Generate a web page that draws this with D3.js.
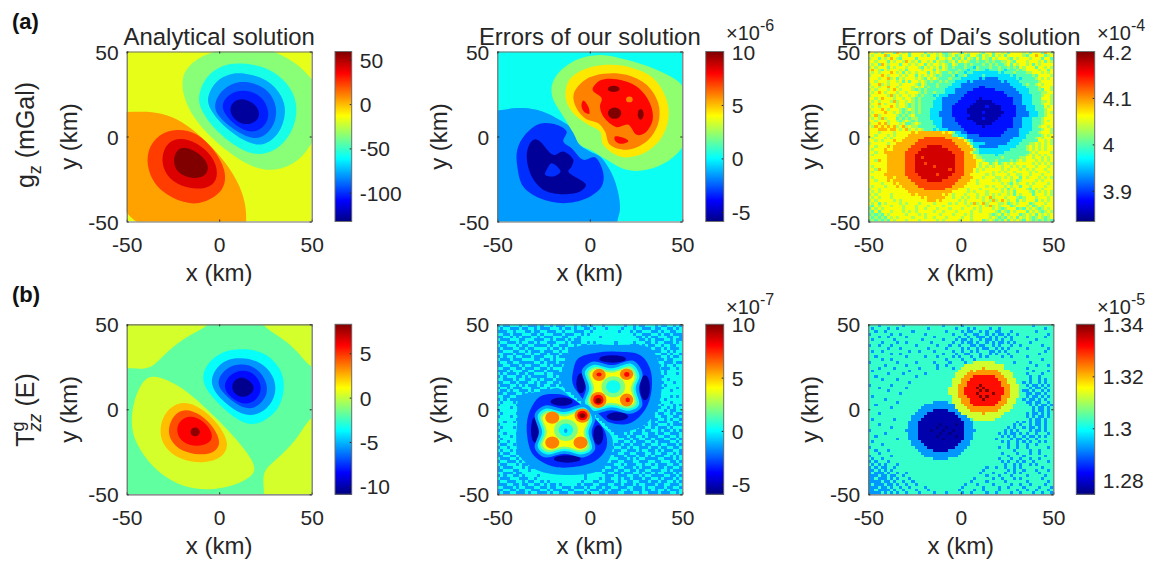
<!DOCTYPE html>
<html><head><meta charset="utf-8">
<script src="https://cdn.jsdelivr.net/npm/d3@7"></script>
<style>html,body{margin:0;background:#fff}svg{display:block;font-family:"Liberation Sans",Arial,sans-serif}</style>
</head><body><svg id="c" width="1162" height="561"></svg>
<script>
// ---------- tick labels ----------
const axisTicks = [-50, 0, 50];
const cbTicks1 = [50, 0, -50, -100];
const cbTicks2 = [10, 5, 0, -5];
const cbTicks3 = [4.2, 4.1, 4, 3.9];
const cbTicks4 = [5, 0, -5, -10];
const cbTicks5 = [10, 5, 0, -5];
const cbTicks6 = [1.34, 1.32, 1.3, 1.28];
const titles = ["Analytical solution", "Errors of our solution", "Errors of Dai\u2032s solution"];
// ---------- colour-bar ranges ----------
const domain1 = [-132.5, 59.4], domain2 = [-5.9, 10], domain3 = [3.834, 4.2];
const domain4 = [-10.9, 8.27], domain5 = [-5.94, 10], domain6 = [1.2746, 1.34];

// ---------- panel 1: g_z analytical (contour outlines, km) ----------
const p1_orange = [[-60,14.4],[-50,14.4],[-39,14.9],[-28,13],[-17.6,7.2],[-6.8,-2.8],[4,-15.6],[11.6,-29.5],[14.6,-41.5],[14.6,-50],[14.6,-60],[-60,-60]];
const p1_orangered = [[-23,4.8],[-12,2.5],[-2.6,-7.6],[3.9,-19.9],[3,-32.2],[-8.4,-39.4],[-17.8,-40],[-32.8,-32.2],[-39,-19.9],[-39,-7.6],[-32.6,1.5]];
const p1_red = [[-21.2,-.5],[-12,-3.4],[-3.3,-11.6],[-.2,-21.9],[-3.3,-29.4],[-12.2,-31.5],[-23.4,-28.4],[-30,-20.9],[-31.3,-11.6],[-28.2,-3.5]];
const p1_dark = [[-18.5,-5.4],[-10,-10.3],[-5.2,-16.9],[-7,-23.6],[-14.9,-25.1],[-22.7,-21.5],[-25,-15],[-23.6,-8.4]];
const p1_green = [[14,56],[-3.2,50],[-12.4,45.6],[-19.2,38.6],[-20.5,29.3],[-17.4,17.2],[-9.2,4.2],[3.8,-8.6],[16.7,-17.7],[27.5,-20.6],[38.8,-17.6],[47,-9.5],[50,-3.2],[58,8],[58,25],[50,33.3],[44,41.6],[31,50]];
const p1_cyan = [[11.3,43.5],[26.2,41],[37.2,31.8],[42.7,19.5],[40.9,5.2],[33.4,-6.8],[22,-11.8],[11,-7.7],[-2,3.2],[-10.2,15.6],[-11.7,23.6],[-7.4,35.8],[2.1,42.3]];
const p1_azure = [[13.1,37.6],[26.2,34],[34.5,23.8],[36.4,13.6],[32.7,1.3],[24.2,-5.9],[14.7,-3.8],[1.8,6.2],[-5.7,16.5],[-6.7,23.6],[-1.9,33],[5.7,37]];
const p1_blue = [[14.9,32.7],[25.3,29],[31,19.7],[31,9.4],[26.2,1.2],[18.6,-2.4],[7.3,4.1],[-1.2,12.3],[-3.1,18.7],[.9,27],[7.4,31.7]];
const p1_blue2 = [[14,27.8],[23.2,24],[27.4,14.6],[25.5,6.2],[17.7,1.4],[9,6.1],[2.5,13.4],[1.1,19.8],[6.4,26.1]];
const p1_navy = [[13.1,22.7],[20,19],[22.5,12.6],[19,7.5],[12.2,6.9],[7,11.1],[5.4,16.7],[8.1,21.2]];

// ---------- panel 2: errors of our solution ----------
const p2_azure = [[-60,15.3],[-50,15.3],[-39.5,16.7],[-28.7,15.7],[-17.9,10.8],[-8.9,3.9],[-6.2,-3.9],[.1,-8.8],[5.5,-11.8],[11.8,-21.6],[15.4,-33.3],[16.3,-43.1],[14.9,-50],[14.9,-60],[-60,-60]];
const p2_blue = [[-27,7.5],[-18,6.9],[-12.5,2.9],[-14.3,-2.9],[-9.8,-6.9],[-3.5,-13.7],[2.8,-12.2],[7.3,-21.6],[6.4,-29.4],[-1.7,-36.3],[-14.3,-39.2],[-27,-36.3],[-36,-29.4],[-39.2,-17.6],[-39.2,-7.8],[-35,1]];
const p2_navy = [[-29.6,-1.6],[-26.9,-2.9],[-19.7,-10.8],[-14.3,-8.8],[-8.9,-13.7],[-9.8,-17.6],[-11.6,-20.6],[-2.1,-28.4],[-5.3,-32.4],[-14.3,-33.9],[-25,-31.4],[-31.4,-23.5],[-34.1,-11.8],[-32.3,-3.9]];
const p2_hole = [[-20.6,-15.7],[-15.8,-20.6],[-19.7,-23.5],[-24.2,-22.5],[-23.3,-19.6]];
const p2_green = [[5.5,48],[19.9,45.1],[36.1,39.2],[48.7,31.4],[51,25.5],[51,-3.9],[43.3,-13.7],[30.7,-19.6],[19.9,-19.6],[9.1,-13.7],[1.9,-8.8],[-5.3,-4.9],[-8.9,2],[-14.3,11.8],[-19.7,21.6],[-20.6,29.4],[-17,37.3],[-7.1,45.1]];
const p2_yellow = [[9.1,42.2],[21.7,40.8],[34.3,34.3],[41.5,21.6],[42.4,9.8],[37.9,-2],[27.1,-10.8],[16.3,-11.8],[7.3,-4.9],[5.5,2.9],[-.8,6.9],[-8.9,13.7],[-12.9,21.6],[-11.6,32.4],[-3.5,39.2]];
const p2_orange = [[7.3,36.9],[19.9,36.3],[30.7,30.4],[37,19.6],[37,7.8],[30.7,-2.9],[19.9,-7.8],[10.9,-4.9],[8.2,2.9],[4.6,7.8],[-2.6,10.8],[-8,18.6],[-8.6,25.5],[-2.6,33.3]];
const p2_red = [[5.5,32.9],[14.5,33.7],[25.3,29.4],[32.5,19.6],[34,9.8],[29.8,2],[25.3,1],[20.8,6.9],[14.5,5.5],[7.3,11.8],[5.5,17.6],[6.4,22.5],[1.5,27.5]];
const p2_redLow = [[13.6,0],[19.9,-1.6],[20.8,-2.9],[16.3,-4.3],[13.6,-2.4]];
const p2_redLeft = [[-3.5,21.2],[-.8,17.6],[-.3,13.3],[-3.2,14.7],[-4.5,18.6]];
const p2_darkSpots = [[12.9,28,3.2,1.8],[13.4,13.7,3.6,3.3],[27.5,13.1,1.6,3.1]];
const p2_orangeSpots = [[21.4,21.8,1.8,1.7]];

// ---------- panel 3: errors of Dai's solution, level code per cell (groups of ten) ----------
const p3_levelValues = [3.85,3.885,3.92,3.96,4.0,4.03,4.06,4.09,4.13,4.17];
const p3_rows = [
"6656466647 6564666646 5656445665 4656665466 4665646666 5646664765",
"6566674666 5664666564 6656545645 6546654656 4656466666 5466766456",
"5664656765 4666646666 6646656454 6465464654 6566654656 6656664664",
"6656664656 6576564665 6465545646 5654454454 5445565466 6566656465",
"6564765666 4665656646 5665654654 4545444545 4544564656 6564656666",
"5656664656 6656665465 6564654544 4544354445 4454454546 5666466565",
"6765465666 5646666566 6465654445 4434454434 4454344454 5666656646",
"6565666765 6465656664 6565445454 4344333333 3343444544 4556665656",
"5666765666 5656646565 6545444534 4533333433 3333334344 4445466665",
"6665667564 6566656546 5654445444 3333332322 2233333343 4444565656",
"6656665665 6464665654 5445454433 3323222222 2223233334 4444456666",
"5667565666 5666654654 4454444333 2222222222 2222223333 4544565666",
"6565667665 6666565645 4454443333 2222221122 2222222333 3444456665",
"5656665676 5666545454 4444433322 2222111111 1222222233 3344454665",
"6567656665 6656665454 4544433322 2211111111 1111222223 3344445566",
"5666665756 5665654544 4343332222 2111111111 1111122222 3334445665",
"6656766656 6566545444 4433222222 1111110111 1111111222 3334446665",
"6565666575 6656545444 4333222221 1111100000 1111111222 3334445565",
"5667656665 6654545444 4333222211 1111000000 0111111222 3334445665",
"6565666765 6654545444 4333222111 1110000010 0001111122 2333444656",
"5666765666 5456545444 3333222111 1100000000 0001111122 2333444566",
"6566676656 5454545444 3332222111 1100000100 0000111122 2233344565",
"5675666665 4545644444 3332222111 1110000000 0001111122 2233344566",
"6565756664 5454554444 3333222211 1100000100 0011111222 3334445666",
"6656665665 4565454444 4333222211 1111000000 0111111222 3334445656",
"5667675666 5644565444 4333222221 1111100000 1111111222 3334445666",
"6576767675 6756554444 4433222222 1111111011 1111111222 3334456656",
"6667776776 5675656544 4343332222 2111111111 1111122223 3334445665",
"6665666656 6666767777 7777676533 2211111111 1111222223 3344456665",
"6656665656 6667777777 7777777443 3322221111 1112222223 3444445656",
"6566656566 6677777788 8888877776 5322222222 2222222333 3444565666",
"6656566676 6777778888 8888888777 7643222222 2222223333 4444466565",
"5666665667 7777788888 8888888877 7764333322 2222233334 4455656565",
"6656667677 7777888889 9999888887 7776332222 2233333344 4565656566",
"6566676677 7778888999 9999998888 7777543333 3333334444 4565656566",
"6656677777 7788889999 9999999888 8776443333 3333444444 4456566665",
"6566667777 7788899999 9999999988 8777654444 4344444444 4565656566",
"6666667777 7788899899 9999999988 8777655444 4445444445 5665665656",
"6657667777 7788899999 9999999988 8777766544 4544445456 5666565656",
"6666667777 7788899989 9999999988 8777765664 5645656566 6665656565",
"6566667777 7788899999 9899999988 8777765656 5665665656 5666566656",
"6657667777 7788899999 9999998988 8777656566 6665656665 6565666566",
"6566667777 7788899999 9999999988 8777656666 5656566566 6656566656",
"6666677777 7788889999 9989999888 8776666656 5666656655 6656665666",
"6566667767 7778888999 9999998888 7777666566 6556565664 6566656565",
"6656667677 7777888889 9999888887 7776656666 5656665645 6666565666",
"6666566676 7777788888 8888888877 7766656666 6665654656 6565666656",
"6566656667 6777778888 8888888777 7666666656 5666565664 6656666566",
"5665666666 6677777788 8888877776 6656665666 6565646566 6546565666",
"6565666666 6667777777 7777777666 6656566656 6665656466 6654656565",
"5656666566 6666767777 7777676566 6566656656 5656656465 6664666565",
"6565666566 6666666767 7777766566 5656656567 5666566654 5666566656",
"5656666656 5666666667 7767666665 6566666565 7567656646 5666465656",
"656465666656566656666566665656656575675666556456566645666566",
"546566656665666566656666566666665666565756566645666564565666",
"465656666665666566566656665666566656566656545666454656545656",
"546466656665656566666566566656666566566665465465666465654565",
"454546566666566656566665666566656566666545646566645656465656",
"545454656566665666566566656666566566666565454656465654565456",
"454545465666566656666656566665666566645654546465654654545454"];

// ---------- panel 4: T_zz analytical ----------
const p4_yelTL = [[-3.2,50],[-3.2,60],[-60,60],[-60,24.4],[-50,24.4],[-41,23.4],[-35.2,25.4],[-28,34.2],[-17.2,43.4]];
const p4_yelTR = [[21.2,50],[21.2,60],[60,60],[60,22.9],[50,22.9],[43.3,33.2],[34.3,42]];
const p4_yelBR = [[50,-2.5],[60,-2.5],[60,-60],[24.4,-60],[24.4,-50],[23.5,-39.6],[25.2,-34.4],[34.2,-26.6],[43.2,-15.8]];
const p4_yellow = [[-36.5,20.2],[-28.2,17.6],[-17.6,11],[-6.3,-.1],[4.6,-11.8],[15.5,-25.6],[20.8,-36],[15.3,-41.3],[4.2,-46.2],[-10.4,-47.7],[-23.3,-44.3],[-36.2,-34.4],[-45.3,-20.2],[-48,-8.4],[-46.2,5.5],[-41.6,16.6]];
const p4_orange = [[-19.4,5.4],[-10,1.1],[-.8,-7.9],[5.8,-20],[2,-28.7],[-8.6,-32.1],[-21.7,-29.6],[-30,-22.4],[-32.8,-12.3],[-29.1,-.2]];
const p4_orangered = [[-18.5,.7],[-10,-2.8],[-2.6,-10.8],[1.2,-20],[-2.6,-25.7],[-10.4,-27.1],[-20.8,-24.7],[-26.4,-18.6],[-27.9,-11.3],[-24.6,-3]];
const p4_red = [[-15.8,-3.2],[-8.1,-6.8],[-3.3,-14.3],[-4.3,-19.8],[-12.2,-22.3],[-20,-19.8],[-23.4,-13.3],[-21.9,-6.8]];
const p4_darkSpots = [[-13,-13.3,2.5,2.6]];
const p4_cyan = [[11.3,35.8],[24.4,34.3],[33.6,24.3],[35.8,13.1],[32.7,-.1],[23.4,-8.1],[14.9,-9.6],[5.5,-3.1],[-5.6,8.8],[-9.9,18],[-6.5,27.5],[2,34.4]];
const p4_azure = [[11.3,30.5],[22.5,28.4],[30,19.3],[31,9.2],[26.3,-.2],[16.8,-4.9],[7.3,-.2],[-2,8.8],[-5.2,17],[-1,25.5],[4.7,29.5]];
const p4_blue = [[12.2,27.2],[20.9,24.4],[26.5,15.2],[25.5,5.9],[17.7,-1],[9.1,2.7],[.7,10.7],[-1.3,17],[3.5,24.5]];
const p4_blue2 = [[13.1,23.7],[20,20.5],[23.4,13.1],[21,5.7],[14,2.1],[6.2,6.7],[1.8,13.1],[5.3,20.6]];
const p4_navy = [[13.1,19.2],[18.2,15.4],[19.3,11],[14.2,6.4],[8,8.6],[6.4,14.2],[9,18.1]];

// ---------- panel 5: errors of our T_zz ----------
const p5_rows = [
"0100111011 0001011010 0011101001 0111011111 1011010011 1010011010",
"1011000100 1101000111 0100101100 1011101111 0111011000 1001100101",
"0001101110 0100110001 1011100011 0111111110 1110100111 0010110011",
"1100100011 1001011100 0100011010 1111111111 1111011000 1101001000",
"0011010100 0110100011 1001110111 1110111111 1111100101 0011100110",
"1000111001 1100011010 0010100111 1111111111 1111110010 1000110100",
"0110001011 0010110001 1101000110 1011111101 1111011100 1011000101",
"1001110100 1100001011 0001101001 1110111101 1110001010 0110110011",
"0100011001 0011110100 1010001100 1101000111 0011000110 1001010001",
"0011100110 1000100011 0110110001 0011000100 1100111001 0001101011",
"1100010001 1011001000 1001001110 0010110001 0001010001 1110010110",
"0101101100 0100011101 0001100100 0110000010 0001100101 0001101001",
"1000100011 1100100101 1100010010 0100000000 0000000110 1100100111",
"0110011000 0011010001 0011100100 0000000000 0000000001 0011000100",
"0011000101 1000110100 0100110000 0000000000 0000000000 1001011011",
"1100110010 0011001011 1000100000 0000000000 0000000000 0110001101",
"0001011100 1100010000 1011000000 0000000000 0000000000 0011011111",
"1010001001 0011101100 0110100000 0000000000 0000000000 0001011101",
"0101110010 1000001101 0010100000 0000000000 0000000000 0010111111",
"1100010110 0110100010 0100000000 0000000000 0000000000 0001101111",
"0011001000 1101001100 1011010000 0000000000 0000000000 0000111011",
"1000110101 0001011001 0100100000 0000000000 0000000000 0001011111",
"0110100011 1000110111 1100100000 0000000000 0000000000 0000111101",
"1001011000 1011000111 1100000000 0000000000 0000000000 0001110111",
"0010001101 0100011011 1111000000 0000000000 0000000000 0011111111",
"1100110010 0011000001 1111100000 0000000000 0000000000 0001110101",
"0101000111 0110000000 1111110000 0000000000 0000000000 0011011111",
"1011101001 1100000000 0111111000 0000000000 0000000000 0001110111",
"0111110110 0010000000 0011111100 0000000000 0000000000 0010111010",
"1111011101 0100000000 0001111110 0000000000 0000000000 0001101011",
"0111111001 0010000000 0000111111 0000000000 0000000000 0011010011",
"1011110100 0100000000 0000011111 1000000000 0000000000 0100110100",
"0111011110 0000000000 0000001111 1100000000 0000000000 0110011001",
"1111110101 0000000000 0000000111 1110000000 0000000001 0011010110",
"1101101100 0000000000 0000000011 1111000000 0000000011 0100011001",
"0111111010 0000000000 0000000001 1111100000 0000000101 0011101000",
"1011101110 0000000000 0000000000 1111110000 0000010011 0100010111",
"0111111000 0000000000 0000000000 0111111000 0001100100 1101001010",
"1101110100 0000000000 0000000000 0011111100 0101000110 0100110001",
"0111011110 0000000000 0000000000 0001111110 0010011010 0011001101",
"1011111000 0000000000 0000000000 0000111111 1001001100 1000110010",
"0110111010 0000000000 0000000000 0000011110 0110100011 0100001101",
"1001101110 0000000000 0000000000 0000001100 1001000100 1101100010",
"0110111001 0000000000 0000000000 0000010011 0010110001 0010011001",
"1011010110 1000000000 0000000000 0000100100 1100010110 0101000110",
"0100110100 1000000000 0000000000 0001010001 1001100011 0110011010",
"0011001011 0100000000 0000000000 0110001100 0100010010 1000110101",
"1000110100 1010000000 0000000001 0001001110 0010101100 0011000101",
"0110001011 0001100000 0000000110 0100011001 1000110001 1001110010",
"1001110100 1100110010 0000001001 1000100011 0100011011 0100011001",
"0100011101 0011111011 0111110110 0100011001 1000101000 1100100110",
"0011100111 0111111111 1111111111 1100100010 0110010011 0001101000",
"1100010011 1111111110 1111111111 1111001100 1000110100 1011000101",
"0101100101 1110111111 1111111101 1111100010 0011001011 0000110010",
"1000111000 1101111111 1111111101 1110100110 1001000100 1101000101",
"0110001101 0011010111 1111111011 1001100010 1100110001 0010011010",
"0001100100 1100101001 0111110100 0110001100 1000101100 0100110001",
"1100010110 0011001001 1000100010 1100100110 0011000101 1000100110",
"0011001001 1000110100 0110011101 0001001000 1101000100 1011010001",
"0100110001 0110001011 0001100010 1110010001 1000110110 0010001101"];
const p5_azureU = [[-8.9,35.9],[14.5,37.8],[32.5,35.9],[37.9,25.1],[37.9,5.5],[30.7,-8.2],[20,-13],[12.7,-13.1],[5.5,-5.3],[-1.4,.6],[-7.1,7.5],[-15.2,14.3],[-14.3,25.1]];
const p5_azureL = [[-37.8,7.5],[-25.1,10.4],[-17,12.4],[-8.9,5.5],[-1.7,-1.4],[4.6,-8.2],[11.8,-16],[11.8,-25.9],[5.5,-35.7],[-10.7,-38.6],[-28.7,-35.7],[-38.6,-25.9],[-39.2,-6.3]];
const p5_blueU = [[-6.2,30],[3.7,33.3],[14.5,33.9],[27.1,32],[32.5,24.1],[33.4,11.4],[29.8,-.4],[21.7,-8.2],[10.9,-7.8],[4.6,-2.4],[-.8,2.5],[-6.2,9.4],[-9.3,15.3],[-8.9,23.1]];
const p5_blueL = [[-26.9,7.5],[-17.9,9],[-10.7,7.1],[-3.5,1.6],[2.8,-5.3],[8.2,-13.1],[9.1,-22],[3.7,-29.8],[-7.1,-33.7],[-19.7,-33.7],[-30.5,-26.9],[-33.8,-16.1],[-33.2,-3.3]];
const p5_navySpots = [[12.3,29.6,7.2,2.2],[-4.8,15.3,2.5,5.9],[29.8,12.7,2.7,7.3],[14.9,-4.3,5.8,2.5],[-15.2,4.5,6,2.4],[-29.6,-12.2,2.2,7.5],[4.6,-15.1,2.7,5.9],[-12.2,-29.2,7.2,2.2]];
const p5_azure2U = [[1.5,28],[11.8,26],[23.5,28.5],[28.5,21],[26.5,12.4],[28.3,2],[22.5,-2.5],[11.8,-.5],[1,-2.5],[-4.2,3],[-2,12.4],[-4.2,23]];
const p5_cyanU = [[1.9,26.1],[11.8,24.1],[22.6,26.7],[26.8,20.2],[24.8,12.4],[26.6,2.5],[21.7,-.8],[11.8,1.2],[1.9,-.8],[-2.6,3.5],[-.3,12.4],[-2.6,22.2]];
const p5_greenU = [[2.5,24.8],[11.8,22.8],[22,25.2],[25.5,19.8],[23.5,12.4],[25.3,3],[21,.5],[11.8,2.5],[2.5,.5],[-1.3,4],[1,12.4],[-1.3,21.6]];
const p5_yellowU = [[3,23.5],[11.8,21.5],[21,24],[24.2,19],[22.2,12.4],[24,3.8],[20.3,1.8],[11.8,3.8],[3.2,1.8],[0,4.5],[2.3,12.4],[0,21]];
const p5_azure2L = [[-24,2.3],[-13.7,.3],[-2,2.8],[3,-4.7],[1,-13.3],[2.8,-23.7],[-3,-28.2],[-13.7,-26.2],[-24.5,-28.2],[-29.7,-22.7],[-27.5,-13.3],[-29.7,-2.7]];
const p5_cyanL = [[-23.6,.4],[-13.7,-1.6],[-2.9,1],[1.3,-5.5],[-.7,-13.3],[1.1,-23.2],[-3.8,-26.5],[-13.7,-24.5],[-23.6,-26.5],[-28.1,-22.2],[-25.8,-13.3],[-28.1,-3.5]];
const p5_greenL = [[-23,-.9],[-13.7,-2.9],[-3.5,-.5],[0,-5.9],[-2,-13.3],[-.2,-22.7],[-4.5,-25.2],[-13.7,-23.2],[-23,-25.2],[-26.8,-21.7],[-24.5,-13.3],[-26.8,-4.1]];
const p5_yellowL = [[-22.5,-2.2],[-13.7,-4.2],[-4.5,-1.7],[-1.3,-6.7],[-3.3,-13.3],[-1.5,-21.9],[-5.2,-23.9],[-13.7,-21.9],[-22.3,-23.9],[-25.5,-21.2],[-23.2,-13.3],[-25.5,-4.7]];
const p5_orangeSpots = [[5,20.2,3.6,3.6],[19.9,20.6,3.6,3.4],[4.6,5.5,4.4,4.7],[19.9,5.5,3.6,3.8],[-20.3,-4.9,3.8,3.6],[-4,-3.7,4.2,4.2],[-20.3,-19.6,3.8,3.6],[-5,-19.6,3.8,3.6]];
const p5_redSpots = [[5,20.5,1.4,1.2],[20,20.5,1.4,1.4],[4.6,5.5,2.8,3],[20.5,5.5,1.2,1.4],[-4,-3.7,2.8,2.8]];
const p5_darkSpots = [[4.6,5,1.6,1.6],[-4,-3.7,1.6,1.4]];
const p5_ringSpots = [[12.7,13.3,6.4,6.2],[-12.9,-12.2,6.4,6.4]];
const p5_coreSpots = [[12.7,13.3,3.9,3.8],[-12.9,-12.2,3.9,3.8]];
const p5_coreSpeck = [[-13,-12.6,.9,1.3]];

// ---------- panel 6: errors of Dai's T_zz, level code per cell (groups of ten) ----------
const p6_levelValues = [1.3025,1.2925,1.2775,1.3125,1.322,1.331,1.34,1.2746];
const p6_rows = [
"0001000000 0100000000 0000100000 1000000000 0000000000 0001000000",
"0100001001 0000000001 0000000010 0010100001 0010000000 0000000100",
"0010010000 0000100000 0000010000 1011001010 0110001000 0000100000",
"1000000100 1000000010 0000000100 0100110010 1011010010 0000000010",
"0001001000 0010000000 0100000001 0010011101 0100101000 0100000100",
"0100000010 0000000100 0000100010 1101001011 0101001000 0000100000",
"0000100001 0010000000 1000000100 1011010010 1011010100 0010000000",
"1001000100 0000010000 0010001001 0001101100 1010001001 0000001000",
"0000001000 1000000001 0000010000 1010010110 0101010000 0100000010",
"0100100000 0001001000 0100000100 1001010001 1010100010 0000000100",
"0000000100 1000000000 0000100010 0110001001 0100010000 0000010000",
"0010000000 0010000010 0010000101 0001001010 0001001000 0100000000",
"0000100100 0000000000 0000010000 1000100000 0000000000 0000001000",
"1000000001 0000010000 0100001000 0100333333 3000000100 0010000000",
"0000010000 0010000000 0010010000 0333333333 3333000000 0000100010",
"0001000010 0000001000 0010000100 3333333433 3333000000 0100000000",
"0100000000 0001000000 0000000003 3334344444 4433330000 0001000010",
"0000001000 0100000010 0000000033 3344444444 4443333000 0100001000",
"0010000000 0000010000 0000000033 3444555555 5444333000 0010010000",
"0000100001 0000000000 0000000333 4445555555 5544433300 0010010100",
"0000000000 0001000000 0000000333 4455555555 5554433300 1010010100",
"1000000100 0000000000 0000000334 4455556555 5554443330 0101101010",
"0001000000 0010000000 0000003334 4555565655 5555443330 0010110100",
"0000001000 0000000000 0000003334 4555556565 5555443330 1101001010",
"0000000000 1000000000 0000003334 4555565555 6555443330 0110110100",
"0100000000 0000000000 0000000334 4455556565 5554443330 0101101010",
"0000010000 0000000000 0000000333 4445555655 5554433300 1011010100",
"0000000001 0000000000 0111110333 4445555555 5544433300 0110110010",
"0010000000 0000000011 1111111133 3444555555 5444333000 0010101101",
"0000000100 0000000111 1111111133 3344444444 4443333000 0001011010",
"0000000000 0000001111 1222221113 3334444444 4433330000 0001011010",
"0001000000 0000011112 2222222211 3333333433 3333000000 0101101010",
"0000000000 0000111122 2222222221 1133333333 3330000000 0101011010",
"0100000010 0000111222 2222222222 1110333333 3000000000 0010110100",
"0000000000 0001112222 2222222222 2111000000 0000000010 1010110100",
"0001000000 0001112222 2227222272 2111000000 0000000101 0010110100",
"0000000100 0001112222 2272272222 2111000000 0000010100 1011010100",
"1000000000 0011112222 7222722722 2111100000 0000101010 0010110100",
"0000010000 0001112222 2227227222 2111000000 0010101101 0100100010",
"0010000000 0001112222 2272222272 2111000000 0001010100 1011010100",
"0000000001 0001112222 2222722222 2111000000 0100001011 0100100000",
"0100000000 0000111222 2222222222 1110000000 0001010010 1010010100",
"0000100000 0000111122 2222222221 1110000000 0000010010 0100100000",
"1000000000 0000011112 2222222211 1100000000 0010010010 0100000010",
"0010001000 0000001111 1222221111 1000000000 0000000100 0010010000",
"0001000000 0000000111 1111111111 0000000000 0001000010 0010010000",
"1000000100 0000000011 1111111110 0000000000 0000010000 1000000100",
"0100100000 0000000000 0111110000 0000000000 0010001001 0010010000",
"1010001000 0000000000 0000000000 0000000000 0001010010 1001000010",
"0101010001 0000000000 0000000000 0000000000 0000100101 0010100000",
"1010110010 0000000000 0000000000 0000000010 0100100101 0000001000",
"1101010100 0000000000 0000000000 0000000100 0000010100 1000100010",
"1011101001 0010000000 0000000000 0000001000 1000100101 0000010000",
"1110110110 0100000000 0000000000 0000000010 0010001000 0100000100",
"1101110101 0001000000 0000000000 0000100000 1001000101 0000001000",
"1111011010 0100100000 0000000000 0001000010 0000100000 0100000010",
"1011101101 0010010000 0000000000 0100010000 1000001001 0010000100",
"1110110100 1001000010 0000000000 1000000100 0010010000 1000010001",
"1101111010 0100010001 0000000001 0000100100 0010000010 0100100010",
"1111010101 0010001000 0100010000 1001000010 0100001001 0001001001"];

// ---------- library helpers ----------
const jet = t => {
  const c = v => Math.round(255 * Math.max(0, Math.min(1, v)));
  return `rgb(${c(1.5 - Math.abs(4*t - 3))},${c(1.5 - Math.abs(4*t - 2))},${c(1.5 - Math.abs(4*t - 1))})`;
};
const svg = d3.select("#c");
const INK = "#262626", BOX = "#6e6e6e";
const cols = [[126.7,311.7],[497.3,682.3],[868.3,1053.3]];
const cbCols = [[335,351.7],[705.7,723.7],[1076.3,1094.7]];
const rowsY = [[221.5,51.5],[494.3,324.3]];
const plain = d => String(d);

function drawPanel(id, col, row, domain, ticks, curve, build) {
  const x = d3.scaleLinear([-50,50], cols[col]);
  const y = d3.scaleLinear([-50,50], rowsY[row]);
  const color = d3.scaleLinear(domain, [0,1]).clamp(true);
  const fill = v => jet(color(v));
  const g = svg.append("g");
  g.append("clipPath").attr("id","clip"+id).append("rect")
    .attr("x",cols[col][0]).attr("y",rowsY[row][1]).attr("width",185).attr("height",170);
  const plot = g.append("g").attr("clip-path",`url(#clip${id})`);
  const line = d3.line().x(d=>x(d[0])).y(d=>y(d[1])).curve(curve);
  const api = {
    bg: v => plot.append("rect").attr("x",cols[col][0]).attr("y",rowsY[row][1]).attr("width",185).attr("height",170).attr("fill",fill(v)),
    area: (pts,v) => plot.append("path").attr("d",line(pts)).attr("fill",fill(v)),
    spots: (arr,v) => plot.selectAll(null).data(arr).join("ellipse")
      .attr("cx",d=>x(d[0])).attr("cy",d=>y(d[1]))
      .attr("rx",d=>x(d[2])-x(0)).attr("ry",d=>y(0)-y(d[3])).attr("fill",fill(v)),
    grid: (gridRows, valueOf) => {
      const bx = d3.scaleBand(d3.range(60), cols[col]);
      const by = d3.scaleBand(d3.range(gridRows.length), [rowsY[row][1],rowsY[row][0]]);
      gridRows.forEach((s,r) => {
        plot.append("g").attr("shape-rendering","crispEdges").selectAll("rect").data(Array.from(s.replace(/ /g,""))).join("rect")
          .attr("x",(d,c)=>bx(c)).attr("y",by(r)).attr("width",bx.bandwidth()+.6).attr("height",by.bandwidth()+.6)
          .attr("fill",d=>fill(valueOf(d)));
      });
    }
  };
  build(api);
  const ax = (gen,tx,ty) => {
    const a = g.append("g").attr("transform",`translate(${tx},${ty})`).call(gen);
    a.selectAll("path").attr("stroke",BOX).attr("stroke-width",1.2);
    a.selectAll("line").attr("stroke",INK);
    a.selectAll("text").attr("fill",INK).attr("font-size",21);
    return a;
  };
  const bottom = ax(d3.axisBottom(x).tickValues(axisTicks).tickSize(-2).tickSizeOuter(0).tickFormat(plain),0,rowsY[row][0]);
  bottom.selectAll("text").attr("dy",null).attr("y",30.5);
  const left = ax(d3.axisLeft(y).tickValues(axisTicks).tickSize(-2).tickSizeOuter(0).tickFormat(plain),cols[col][0],0);
  left.selectAll("text").attr("x",-8).attr("dy","0.36em");
  ax(d3.axisTop(x).tickValues(axisTicks).tickSize(-2).tickSizeOuter(0).tickFormat(""),0,rowsY[row][1]);
  ax(d3.axisRight(y).tickValues(axisTicks).tickSize(-2).tickSizeOuter(0).tickFormat(""),cols[col][1],0);
  const cb = d3.scaleLinear(domain, rowsY[row]);
  const steps = d3.range(rowsY[row][1], rowsY[row][0], 1);
  g.append("g").attr("shape-rendering","crispEdges").selectAll("rect").data(steps).join("rect")
    .attr("x",cbCols[col][0]).attr("width",cbCols[col][1]-cbCols[col][0]).attr("y",d=>d).attr("height",1.2)
    .attr("fill",d=>fill(cb.invert(d+.5)));
  const cbA = g.append("g").attr("transform",`translate(${cbCols[col][1]},0)`)
    .call(d3.axisRight(cb).tickValues(ticks).tickSize(-2).tickSizeOuter(0).tickFormat(plain));
  cbA.selectAll("path").attr("fill","none").attr("stroke","none");
  cbA.selectAll("line").attr("stroke",INK);
  cbA.selectAll("text").attr("x",8).attr("dy","0.36em").attr("fill",INK).attr("font-size",21);
  g.append("rect").attr("x",cbCols[col][0]).attr("y",rowsY[row][1]).attr("width",cbCols[col][1]-cbCols[col][0]).attr("height",170)
    .attr("fill","none").attr("stroke",BOX).attr("stroke-width",1);
  const mid = (cols[col][0]+cols[col][1])/2;
  g.append("text").attr("x",mid).attr("y",rowsY[row][0]+59.5).attr("text-anchor","middle").attr("fill",INK).attr("font-size",24).text("x (km)");
  const yx = cols[col][0]-50, ym = (rowsY[row][0]+rowsY[row][1])/2;
  g.append("text").attr("transform",`translate(${yx},${ym}) rotate(-90)`).attr("text-anchor","middle").attr("fill",INK).attr("font-size",24).text("y (km)");
}

const smooth = d3.curveBasisClosed, tight = d3.curveCatmullRomClosed.alpha(.5);
drawPanel(1,0,0,domain1,cbTicks1,smooth,a=>{
  a.bg(-17);
  a.area(p1_orange,5); a.area(p1_orangered,24); a.area(p1_red,42); a.area(p1_dark,60);
  a.area(p1_green,-35); a.area(p1_cyan,-56); a.area(p1_azure,-77); a.area(p1_blue,-92); a.area(p1_blue2,-103); a.area(p1_navy,-127);
});
drawPanel(2,1,0,domain2,cbTicks2,tight,a=>{
  a.bg(.25);
  a.area(p2_azure,-1.5); a.area(p2_blue,-3.2); a.area(p2_navy,-5.5); a.area(p2_hole,-3.2);
  a.area(p2_green,2.3); a.area(p2_yellow,4.4); a.area(p2_orange,6); a.area(p2_red,7.9);
  a.area(p2_redLow,7.9); a.area(p2_redLeft,7.9);
  a.spots(p2_darkSpots,10); a.spots(p2_orangeSpots,6);
});
drawPanel(3,2,0,domain3,cbTicks3,tight,a=>{
  a.bg(4.06);
  a.grid(p3_rows, d=>p3_levelValues[+d]);
});
drawPanel(4,0,1,domain4,cbTicks4,smooth,a=>{
  a.bg(-1.9);
  a.area(p4_yelTL,.3); a.area(p4_yelTR,.3); a.area(p4_yelBR,.3);
  a.area(p4_yellow,.3); a.area(p4_orange,2.3); a.area(p4_orangered,4.4); a.area(p4_red,5.9); a.spots(p4_darkSpots,8);
  a.area(p4_cyan,-3.6); a.area(p4_azure,-5.7); a.area(p4_blue,-7.2); a.area(p4_blue2,-8.3); a.area(p4_navy,-10.6);
});
drawPanel(5,1,1,domain5,cbTicks5,tight,a=>{
  a.bg(.25);
  a.grid(p5_rows, d=>d==="1"?.25:-1.5);
  a.area(p5_azureU,-1.5); a.area(p5_azureL,-1.5);
  a.area(p5_blueU,-3.3); a.area(p5_blueL,-3.3);
  a.spots(p5_navySpots,-5.5);
  [[p5_azure2U,p5_cyanU,p5_greenU,p5_yellowU],[p5_azure2L,p5_cyanL,p5_greenL,p5_yellowL]].forEach(s=>{
    a.area(s[0],-1.5); a.area(s[1],.25); a.area(s[2],2); a.area(s[3],3.9);
  });
  a.spots(p5_orangeSpots,6); a.spots(p5_redSpots,8); a.spots(p5_darkSpots,10);
  a.spots(p5_ringSpots,2); a.spots(p5_coreSpots,.25); a.spots(p5_coreSpeck,-1.5);
});
drawPanel(6,2,1,domain6,cbTicks6,tight,a=>{
  a.bg(1.3025);
  a.grid(p6_rows, d=>p6_levelValues[+d]);
});

const overlay = svg.append("g").attr("fill",INK);
titles.forEach((t,i)=>overlay.append("text").attr("x",(cols[i][0]+cols[i][1])/2).attr("y",45).attr("text-anchor","middle").attr("font-size",23.9).text(t));
overlay.append("text").attr("x",12).attr("y",29).attr("font-size",22).attr("font-weight","bold").attr("fill","#111").text("(a)");
overlay.append("text").attr("x",12).attr("y",302).attr("font-size",22).attr("font-weight","bold").attr("fill","#111").text("(b)");
const expo = [[726,40,"-6"],[1097,40,"-4"],[726,314,"-7"],[1097,314,"-5"]];
expo.forEach(e=>{
  const t = overlay.append("text").attr("x",e[0]).attr("y",e[1]).attr("font-size",20);
  t.append("tspan").text("\u00d710");
  t.append("tspan").attr("dy",-9).attr("font-size",16).text(e[2]);
});
const gz = overlay.append("text").attr("transform","translate(34,135) rotate(-90)").attr("text-anchor","middle").attr("font-size",25);
gz.append("tspan").text("g");
gz.append("tspan").attr("dy",7).attr("font-size",18).text("z");
gz.append("tspan").attr("dy",-7).text(" (mGal)");
const tz = overlay.append("text").attr("transform","translate(34,410) rotate(-90)").attr("text-anchor","middle").attr("font-size",25);
tz.append("tspan").text("T");
tz.append("tspan").attr("dy",-10).attr("font-size",18).text("g");
tz.append("tspan").attr("dy",17).attr("dx",-10).attr("font-size",18).attr("font-style","italic").text("zz");
tz.append("tspan").attr("dy",-7).text(" (E)");
</script></body></html>
